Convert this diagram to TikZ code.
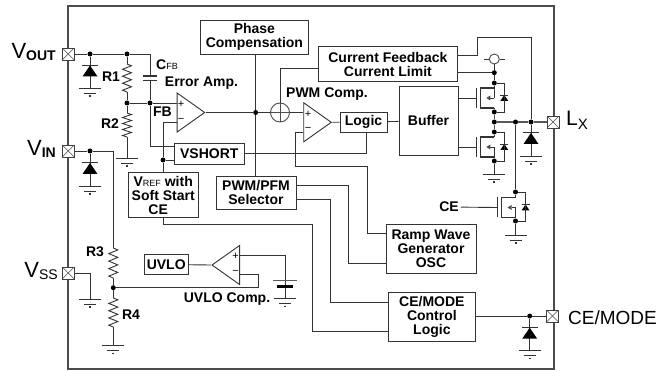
\documentclass[tikz,border=0pt]{standalone}
\usepackage{fontspec}
\setmainfont{Liberation Sans}
\usetikzlibrary{positioning,arrows,calc,shapes.geometric,decorations.pathmorphing}
\newcommand{\pinlabel}[2]{{\fontsize{22}{22}\selectfont #1}\raisebox{-2.5pt}{\fontsize{14}{14}\selectfont #2}}
\tikzset{
    wire/.style = {
        line width=0.9pt,
        draw=black!80
    },
    bus/.style = {
        line width=1.4pt,
        draw=black!65
    },
    block/.style = {
        draw=black!80,
        shape=rectangle,
        line width=0.9pt,
        inner sep=0pt,
        align=center,
        fill=white,
        font=\fontsize{14}{14}\selectfont\bfseries
    },
    frame/.style = {
        draw=black!70,
        shape=rectangle,
        line width=1.1pt,
        minimum width=486pt,
        minimum height=363pt
    },
    pin/.style = {
        draw=black!75,
        shape=rectangle,
        fill=white,
        line width=0.8pt,
        inner sep=0pt,
        minimum size=12pt,
        path picture={
            \draw[line width=0.6pt,black!70] (path picture bounding box.north west) -- (path picture bounding box.south east);
            \draw[line width=0.6pt,black!70] (path picture bounding box.north east) -- (path picture bounding box.south west);
        }
    },
    dot/.style = {
        shape=circle,
        fill=black,
        inner sep=0pt,
        minimum size=5pt
    },
    comp/.style = {
        draw=black!80,
        shape=isosceles triangle,
        isosceles triangle stretches,
        line width=0.9pt,
        inner sep=0pt,
        minimum width=39pt,
        minimum height=27.5pt,
        fill=white,
        anchor=lower side
    },
    summer/.style = {
        draw=black!70,
        shape=circle,
        line width=0.9pt,
        inner sep=0pt,
        minimum size=19pt,
        fill=white,
        path picture={
            \draw[line width=0.7pt] (path picture bounding box.north) -- (path picture bounding box.south);
            \draw[line width=0.7pt] (path picture bounding box.west) -- (path picture bounding box.east);
        }
    },
    sense/.style = {
        draw=black!70,
        shape=circle,
        line width=0.9pt,
        inner sep=0pt,
        minimum size=10pt
    },
    resistor/.style = {
        decorate,
        decoration={zigzag, segment length=#1, amplitude=4.5pt}
    },
    tag/.style = {
        inner sep=2pt,
        font=\fontsize{14}{14}\selectfont\bfseries
    },
    sign/.style = {
        inner sep=0pt,
        font=\fontsize{11}{11}\selectfont
    },
    gnd/.pic = {
        \draw[wire] (-11,0) -- (11,0);
        \draw[wire] (-6,5) -- (6,5);
        \draw[wire,line width=1.2pt] (-1,8) -- (1,8);
    },
    diode/.pic = {
        \draw[wire,line width=1pt] (-8,0) -- (8,0);
        \fill[black] (-7.5,11) -- (7.5,11) -- (0,0) -- cycle;
    },
    cap/.pic = {
        \fill[white] (-7,0) rectangle (7,4.6);
        \draw[wire,line width=1.1pt] (-7,0) -- (7,0);
        \draw[wire,line width=1.1pt] (-7,4.6) -- (7,4.6);
    },
    battery/.pic = {
        \draw[wire,line width=1.2pt,draw=black!65] (-12,0) -- (12,0);
        \draw[wire,line width=3pt,draw=black] (-8,5.5) -- (8,5.5);
    },
    fet/.pic = {
        \draw[wire] (-18,-10) -- (-18,10);
        \draw[wire,line width=1.2pt] (0,-10) -- (-14,-10) -- (-14,10) -- (0,10);
        \draw[wire] (-4,0) -- (0,0);
        \fill[black!70] (-8,0) -- (-4,-2.5) -- (-4,2.5) -- cycle;
        \draw[wire] (10,-3) ++(-4,0) -- ++(8,0);
        \fill[black] (6,3) -- (14,3) -- (10,-3) -- cycle;
        \coordinate (-g) at (-18,0);
        \coordinate (-d) at (0,-10);
        \coordinate (-m) at (0,0);
        \coordinate (-s) at (0,10);
        \coordinate (-b) at (10,0);
    }
}
\begin{document}
\begin{tikzpicture}[x=1pt,y=-1pt]
    \useasboundingbox (0,0) rectangle (666,371);

    \node[frame] (chip) at (311,187.5) {};

    \node[pin] (voutpin) at (68.3,54) {};
    \node[pin] (vinpin) at (68.3,151) {};
    \node[pin] (vsspin) at (68.3,273) {};
    \node[pin] (lxpin) at (553,122) {};
    \node[pin] (cepin) at (552.5,316) {};

    \node[anchor=east,inner sep=0pt] (voutlabel) at (56,52) {\pinlabel{V}{\bfseries OUT}};
    \node[anchor=east,inner sep=0pt] (vinlabel) at (56,149) {\pinlabel{V}{\bfseries IN}};
    \node[anchor=east,inner sep=0pt] (vsslabel) at (58,271) {\pinlabel{V}{SS}};
    \node[anchor=west,inner sep=0pt] (lxlabel) at (566,120) {{\fontsize{21}{21}\selectfont L}\raisebox{-4pt}{\fontsize{15}{15}\selectfont X}};
    \node[anchor=west,inner sep=0pt] (celabel) at (568,318) {\fontsize{19}{19}\selectfont CE/MODE};

    \node[block,minimum width=107.3pt,minimum height=34pt] (phase) at (254.4,37) {Phase\\Compensation};
    \node[block,minimum width=139.7pt,minimum height=35pt] (curfb) at (387.9,64.2) {Current Feedback\\Current Limit};
    \node[block,minimum width=59pt,minimum height=68.3pt] (buffer) at (428.5,120.9) {Buffer};
    \node[block,minimum width=47pt,minimum height=20pt] (logic) at (363.5,122) {Logic};
    \node[block,minimum width=69.5pt,minimum height=21pt] (vshort) at (209.3,153.5) {VSHORT};
    \node[block,minimum width=69.7pt,minimum height=44.6pt] (vref) at (163.2,195) {V{\fontsize{9}{9}\selectfont\mdseries REF} with\\Soft Start\\CE\hspace*{10pt}};
    \node[block,minimum width=80pt,minimum height=33.3pt] (selector) at (256,192.7) {PWM/PFM\\Selector};
    \node[block,minimum width=90pt,minimum height=49.3pt] (ramp) at (431,248.7) {Ramp Wave\\Generator\\OSC};
    \node[block,minimum width=87.7pt,minimum height=49pt] (cemode) at (431.9,317.2) {CE/MODE\\Control\\Logic};
    \node[block,minimum width=44.3pt,minimum height=19.6pt] (uvlo) at (166.2,264.5) {UVLO};

    \node[comp] (erramp) at (176.7,112.5) {};
    \node[comp] (pwmcomp) at (303.3,122.3) {};
    \node[comp,shape border rotate=180] (uvcomp) at (240,265) {};
    \node[summer] (sum) at (280,112.5) {};
    \node[sense] (sensor) at (494.3,59) {};

    \node[sign] (errplus) at (181,104.5) {+};
    \node[sign] (errminus) at (181,120) {−};
    \node[sign] (pwmplus) at (308,114) {+};
    \node[sign] (pwmminus) at (308,129) {−};
    \node[sign] (uvplus) at (235.7,256.5) {+};
    \node[sign] (uvminus) at (235.7,272.5) {−};

    \node[tag] (r1label) at (111,77) {R1};
    \node[tag] (r2label) at (110,124) {R2};
    \node[tag] (r3label) at (95,252) {R3};
    \node[tag] (r4label) at (131,315) {R4};
    \node[tag] (cfblabel) at (167,65) {C{\fontsize{9}{9}\selectfont\mdseries FB}};
    \node[tag] (fblabel) at (162.5,112) {FB};
    \node[tag] (erramplabel) at (201.5,83) {Error Amp.};
    \node[tag] (pwmlabel) at (327,94) {PWM Comp.};
    \node[tag] (uvlabel) at (227,299) {UVLO Comp.};
    \node[tag] (celeft) at (449,207) {CE};

    \node[dot] (voutdotA) at (90,54) {};
    \node[dot] (voutdotB) at (127,54) {};
    \node[dot] (r12dot) at (127,103) {};
    \node[dot] (fbdot) at (150,103) {};
    \node[dot] (refdot) at (163,160) {};
    \node[dot] (vindot) at (90,151) {};
    \node[dot] (r34dot) at (113.3,287.7) {};
    \node[dot] (jcomp) at (255.7,112.5) {};
    \node[dot] (dotA) at (494.3,72.7) {};
    \node[dot] (dotB) at (494.3,83) {};
    \node[dot] (dotC) at (494.3,112) {};
    \node[dot] (dotO) at (494.3,122) {};
    \node[dot] (dotD) at (494.3,132) {};
    \node[dot] (dotE) at (494.3,161) {};
    \node[dot] (lxdotA) at (515.5,122) {};
    \node[dot] (lxdotB) at (531,122) {};
    \node[dot] (dotF) at (515.5,192) {};
    \node[dot] (dotG) at (515.5,221) {};
    \node[dot] (cedot) at (529.7,316) {};

    \coordinate (gndA) at (90,88);
    \coordinate (gndB) at (127,158);
    \coordinate (gndC) at (90,186);
    \coordinate (gndD) at (90,299);
    \coordinate (gndE) at (113.3,345.7);
    \coordinate (gndF) at (285,298.3);
    \coordinate (gndG) at (494.3,174);
    \coordinate (gndH) at (531,156);
    \coordinate (gndI) at (515.5,235);
    \coordinate (gndJ) at (529.7,350.7);
    \coordinate (r1top) at (127,64);
    \coordinate (r1bot) at (127,92);
    \coordinate (r2top) at (127,113);
    \coordinate (r2bot) at (127,137);
    \coordinate (r3top) at (113.3,248);
    \coordinate (r3bot) at (113.3,278);
    \coordinate (r4top) at (113.3,298);
    \coordinate (r4bot) at (113.3,327);
    \coordinate (vincorner) at (113.3,151);
    \coordinate (errP) at (176.7,103);
    \coordinate (errM) at (176.7,122);
    \coordinate (pwmP) at (303.3,112.5);
    \coordinate (pwmM) at (303.3,132);
    \coordinate (uvP) at (240,255);
    \coordinate (uvM) at (240,274.3);
    \coordinate (vshortin) at (174.5,146);
    \coordinate (vshortref) at (174.5,160);
    \coordinate (logicin) at (366,132);
    \coordinate (curfbL) at (318,68);
    \coordinate (curfbA) at (457.7,55);
    \coordinate (curfbB) at (457.7,72.7);
    \coordinate (selA) at (296,185);
    \coordinate (selB) at (296,199.7);
    \coordinate (rampA) at (386,233);
    \coordinate (rampB) at (386,263);
    \coordinate (cemodeA) at (388,302.3);
    \coordinate (cemodeB) at (388,331);
    \coordinate (bendA) at (295,166);
    \coordinate (bendB) at (367,166);
    \coordinate (bendC) at (477,37);
    \coordinate (bendD) at (258.3,274.3);
    \coordinate (bendE) at (312.7,224);
    \coordinate (bendF) at (348,185);
    \coordinate (bendG) at (330.7,199.7);
    \coordinate (battery) at (285,280.7);

    \path (494.3,98) pic (fetA) {fet};
    \path (494.3,147) pic (fetB) {fet};
    \path (515.5,207.5) pic (fetC) {fet};

    \path[draw,wire] (voutpin) -- (voutdotA);
    \path[draw,wire] (voutdotA) -- (voutdotB);
    \path[draw,wire] (voutdotB) -| (fbdot);
    \path[draw,wire] (voutdotA) -- (gndA);
    \path[draw,wire] (voutdotB) -- (r1top);
    \path[draw,wire,resistor=7pt] (r1top) -- (r1bot);
    \path[draw,wire] (r1bot) -- (r12dot);
    \path[draw,wire] (r12dot) -- (r2top);
    \path[draw,wire,resistor=6pt] (r2top) -- (r2bot);
    \path[draw,wire] (r2bot) -- (gndB);
    \path[draw,wire] (r12dot) -- (fbdot);
    \path[draw,wire] (fbdot) -- (errP);
    \path[draw,wire] (fbdot) |- (vshortin);
    \path[draw,wire] (errM) -| (refdot);
    \path[draw,wire] (refdot) -- (vshortref);
    \path[draw,wire] (refdot) -- (vref.north -| refdot);

    \path[draw,wire] (vinpin) -- (vindot);
    \path[draw,wire] (vindot) -- (vincorner) -- (r3top);
    \path[draw,wire] (vindot) -- (gndC);
    \path[draw,wire,resistor=7.5pt] (r3top) -- (r3bot);
    \path[draw,wire] (r3bot) -- (r34dot);
    \path[draw,wire] (r34dot) -- (r4top);
    \path[draw,wire,resistor=7.25pt] (r4top) -- (r4bot);
    \path[draw,wire] (r4bot) -- (gndE);
    \path[draw,wire] (vsspin) -| (gndD);

    \path[draw,wire] (uvlo) -- (uvcomp.apex);
    \path[draw,wire] (uvP) -| (battery);
    \path[draw,wire] (battery) -- (gndF);
    \path[draw,wire] (uvM) -- (bendD) |- (r34dot);

    \path[draw,wire] (erramp.apex) -- (jcomp);
    \path[draw,wire] (jcomp) -- (sum);
    \path[draw,wire] (sum) -- (pwmP);
    \path[draw,wire] (phase.south -| jcomp) -- (jcomp);
    \path[draw,wire] (jcomp) -- (selector.north -| jcomp);
    \path[draw,wire] (curfbL) -| (sum.north);
    \path[draw,wire] (pwmcomp.apex) -- (logic);
    \path[draw,wire] (logic) -- (buffer);
    \path[draw,wire] (vshort.east) -| (logicin);
    \path[draw,wire] (pwmM) -| (bendA) -- (bendB) |- (rampA);
    \path[draw,wire] (selA) -- (bendF) |- (rampB);
    \path[draw,wire] (selB) -- (bendG) |- (cemodeA);
    \path[draw,wire] (vref.south) |- (bendE) |- (cemodeB);

    \path[draw,wire] (curfbA) -| (bendC) -| (lxdotB);
    \path[draw,wire] (curfbB) -- (dotA);
    \path[draw,wire] (sensor.south) -- (dotA);
    \path[draw,wire] (sensor.west) -- ++(-5,0);
    \path[draw,wire] (sensor.east) -- ++(5,0);
    \path[draw,wire] (dotA) -- (dotB);
    \path[draw,wire,line width=1.2pt] (dotB) -- (fetA-m);
    \path[draw,wire,line width=1.2pt] (fetA-s) -- (dotC);
    \path[draw,wire] (dotB) -| (fetA-b) |- (dotC);
    \path[draw,bus] (dotC) -- (dotO) -- (dotD);
    \path[draw,wire,line width=1.2pt] (dotD) -- (fetB-d);
    \path[draw,wire,line width=1.2pt] (fetB-m) -- (dotE);
    \path[draw,wire] (dotD) -| (fetB-b) |- (dotE);
    \path[draw,wire] (dotE) -- (gndG);
    \path[draw,wire] (buffer.east |- fetA-g) -- (fetA-g);
    \path[draw,wire] (buffer.east |- fetB-g) -- (fetB-g);
    \path[draw,bus] (dotO) -- (lxdotA) -- (lxdotB) -- (lxpin);
    \path[draw,wire] (lxdotA) -- (dotF);
    \path[draw,wire] (lxdotB) -- (gndH);
    \path[draw,wire,line width=1.2pt] (dotF) -- (fetC-d);
    \path[draw,wire,line width=1.2pt] (fetC-m) -- (dotG);
    \path[draw,wire] (dotF) -| (fetC-b) |- (dotG);
    \path[draw,wire] (dotG) -- (gndI);
    \path[draw,wire] (celeft) -- (fetC-g);

    \path[draw,wire] (cemode.east |- cepin) -- (cedot);
    \path[draw,wire] (cedot) -- (cepin);
    \path[draw,wire] (cedot) -- (gndJ);

    \path (150,76) pic {cap};
    \path (90,65.5) pic {diode};
    \path (90,163) pic {diode};
    \path (531,133) pic {diode};
    \path (529.7,327.7) pic {diode};
    \path (battery) pic {battery};
    \foreach \g in {gndA,gndB,gndC,gndD,gndE,gndF,gndG,gndH,gndI,gndJ}
        \path (\g) pic {gnd};
\end{tikzpicture}
\end{document}
